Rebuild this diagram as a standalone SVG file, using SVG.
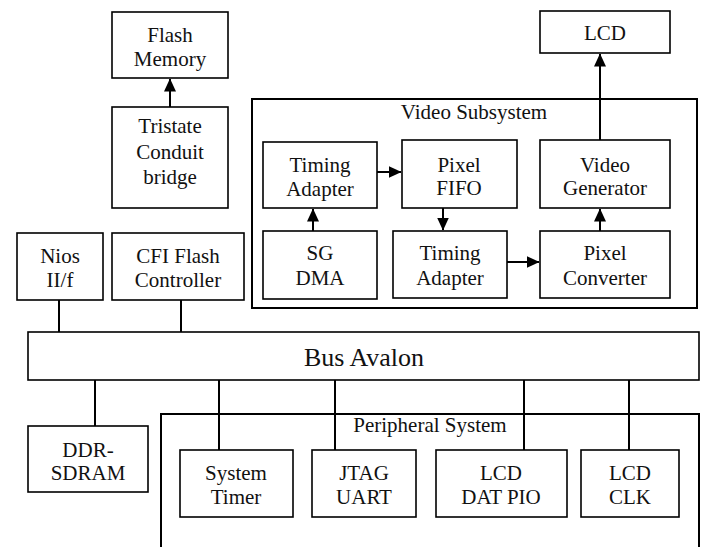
<svg xmlns="http://www.w3.org/2000/svg" width="704" height="547" viewBox="0 0 704 547">
<defs>
<style>
.box{fill:#fff;stroke:#000;stroke-width:1.6}
.cont{fill:none;stroke:#000;stroke-width:2}
text{font-family:'Liberation Serif','Times New Roman',Tinos,'DejaVu Serif',serif;font-size:21px;fill:#111;text-anchor:middle}
.big{font-size:26px}
.ln{stroke:#000;stroke-width:2;fill:none}
</style>
<marker id="ah" markerWidth="13" markerHeight="12" refX="12.5" refY="6" orient="auto" markerUnits="userSpaceOnUse">
<path d="M0,0 L13,6 L0,12 Z" fill="#000"/>
</marker>
</defs>
<rect width="704" height="547" fill="#fff"/>

<g id="video-subsystem">
<rect class="cont" x="252" y="99" width="445" height="209"/>
<text x="474" y="119" font-family="Liberation Serif, serif">Video Subsystem</text>
</g>
<g id="peripheral-system">
<path class="cont" d="M161,550 V414 H699 V550"/>
<text x="430" y="432">Peripheral System</text>
</g>

<g id="connectors">
<line class="ln" x1="170" y1="107" x2="170" y2="79" marker-end="url(#ah)"/>
<line class="ln" x1="600" y1="140" x2="600" y2="54" marker-end="url(#ah)"/>
<line class="ln" x1="377" y1="172" x2="401" y2="172" marker-end="url(#ah)"/>
<line class="ln" x1="313" y1="231" x2="313" y2="209" marker-end="url(#ah)"/>
<line class="ln" x1="443" y1="208" x2="443" y2="230" marker-end="url(#ah)"/>
<line class="ln" x1="507" y1="262" x2="539" y2="262" marker-end="url(#ah)"/>
<line class="ln" x1="600" y1="231" x2="600" y2="209" marker-end="url(#ah)"/>
<line class="ln" x1="59" y1="300" x2="59" y2="332"/>
<line class="ln" x1="181" y1="300" x2="181" y2="332"/>
<line class="ln" x1="95" y1="380" x2="95" y2="426"/>
<line class="ln" x1="219" y1="380" x2="219" y2="450"/>
<line class="ln" x1="335" y1="380" x2="335" y2="450"/>
<line class="ln" x1="524" y1="380" x2="524" y2="450"/>
<line class="ln" x1="629" y1="380" x2="629" y2="450"/>
</g>

<g id="flash-memory">
<rect class="box" x="112" y="12" width="116" height="66"/>
<text x="170" y="42">Flash</text>
<text x="170" y="66">Memory</text>
</g>
<g id="tristate-bridge">
<rect class="box" x="112" y="107" width="116" height="101"/>
<text x="170" y="133">Tristate</text>
<text x="170" y="159">Conduit</text>
<text x="170" y="184">bridge</text>
</g>
<g id="nios">
<rect class="box" x="17" y="233" width="86" height="67"/>
<text x="60" y="263">Nios</text>
<text x="60" y="287">II/f</text>
</g>
<g id="cfi-flash">
<rect class="box" x="112" y="233" width="132" height="67"/>
<text x="178" y="263">CFI Flash</text>
<text x="178" y="287">Controller</text>
</g>
<g id="lcd">
<rect class="box" x="540" y="11" width="130" height="42"/>
<text x="605" y="40">LCD</text>
</g>
<g id="timing-adapter-1">
<rect class="box" x="263" y="142" width="114" height="66"/>
<text x="320" y="172">Timing</text>
<text x="320" y="196">Adapter</text>
</g>
<g id="pixel-fifo">
<rect class="box" x="402" y="140" width="115" height="68"/>
<text x="459" y="172">Pixel</text>
<text x="459" y="195">FIFO</text>
</g>
<g id="video-generator">
<rect class="box" x="540" y="140" width="130" height="68"/>
<text x="605" y="172">Video</text>
<text x="605" y="195">Generator</text>
</g>
<g id="sg-dma">
<rect class="box" x="263" y="231" width="114" height="68"/>
<text x="320" y="260">SG</text>
<text x="320" y="285">DMA</text>
</g>
<g id="timing-adapter-2">
<rect class="box" x="393" y="231" width="114" height="67"/>
<text x="450" y="260">Timing</text>
<text x="450" y="285">Adapter</text>
</g>
<g id="pixel-converter">
<rect class="box" x="540" y="231" width="130" height="67"/>
<text x="605" y="260">Pixel</text>
<text x="605" y="285">Converter</text>
</g>
<g id="bus-avalon">
<rect class="box" x="28" y="332" width="671" height="48"/>
<text class="big" x="364" y="366">Bus Avalon</text>
</g>
<g id="ddr-sdram">
<rect class="box" x="28" y="426" width="120" height="66"/>
<text x="88" y="457">DDR-</text>
<text x="88" y="480">SDRAM</text>
</g>
<g id="system-timer">
<rect class="box" x="180" y="450" width="113" height="67"/>
<text x="236" y="480">System</text>
<text x="236" y="504">Timer</text>
</g>
<g id="jtag-uart">
<rect class="box" x="312" y="450" width="104" height="67"/>
<text x="364" y="480">JTAG</text>
<text x="364" y="504">UART</text>
</g>
<g id="lcd-dat-pio">
<rect class="box" x="436" y="450" width="131" height="67"/>
<text x="501" y="480">LCD</text>
<text x="501" y="504">DAT PIO</text>
</g>
<g id="lcd-clk">
<rect class="box" x="581" y="450" width="98" height="67"/>
<text x="630" y="480">LCD</text>
<text x="630" y="504">CLK</text>
</g>
</svg>
